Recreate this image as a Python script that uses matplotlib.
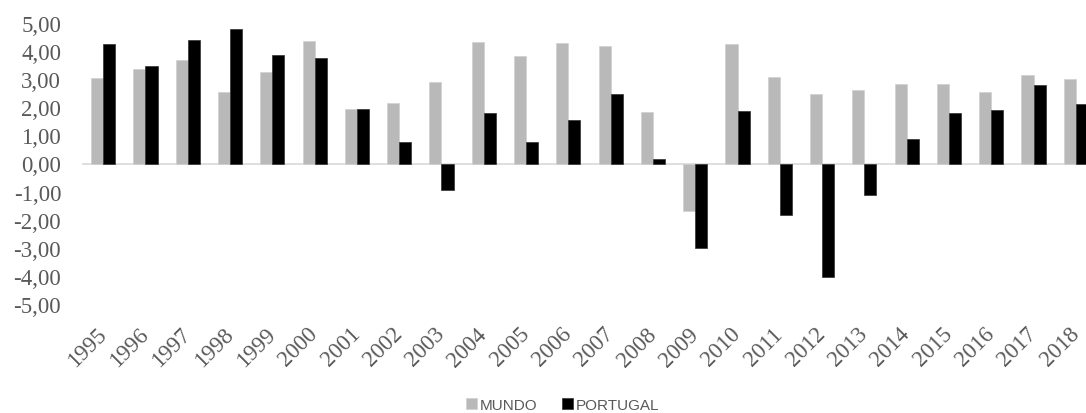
import numpy as np
import matplotlib.pyplot as plt
from matplotlib.ticker import FuncFormatter

# dados
anos = [str(a) for a in range(1995, 2019)]
mundo = [3.03, 3.38, 3.68, 2.55, 3.26, 4.36, 1.93, 2.17, 2.90, 4.34, 3.84, 4.30,
         4.18, 1.83, -1.70, 4.26, 3.09, 2.49, 2.62, 2.82, 2.83, 2.56, 3.15, 3.02]
portugal = [4.27, 3.48, 4.41, 4.77, 3.86, 3.76, 1.93, 0.75, -0.93, 1.80, 0.75, 1.54,
            2.47, 0.17, -3.00, 1.88, -1.83, -4.03, -1.12, 0.88, 1.81, 1.92, 2.80, 2.13]

cor_texto = '#595959'

fig = plt.figure(figsize=(10.86, 4.14), dpi=100)
# eixo um pouco mais largo que a figura (grafico cortado a direita)
ax = fig.add_axes([82 / 1086, (414 - 305) / 414, (1097 - 82) / 1086, 281 / 414])

x = np.arange(len(anos))
w = 0.286
ax.bar(x - w / 2, mundo, w, color='#b9b9b9', edgecolor='#d0d0d0', linewidth=0.5, label='MUNDO')
ax.bar(x + w / 2, portugal, w, color='#000000', edgecolor='#303030', linewidth=0.5, label='PORTUGAL')
ax.axhline(0, color='#d9d9d9', linewidth=1.2, zorder=0)

ax.set_xlim(-0.5, len(anos) - 0.5)
ax.set_ylim(-5, 5)
ax.set_yticks(np.arange(-5, 6, 1))
ax.yaxis.set_major_formatter(FuncFormatter(lambda v, p: f'{v:.2f}'.replace('.', ',')))
for s in ax.spines.values():
    s.set_visible(False)
ax.tick_params(axis='both', length=0)
ax.tick_params(axis='y', pad=15, labelsize=16.5, labelcolor=cor_texto)
for lbl in ax.get_yticklabels():
    lbl.set_family('Liberation Serif')

ax.set_xticks(x)
ax.set_xticklabels(anos, rotation=45, ha='right', va='center', rotation_mode='anchor',
                   family='Liberation Serif', fontsize=16.5, color=cor_texto)
ax.tick_params(axis='x', pad=19)

fig.legend(loc='center', bbox_to_anchor=(563 / 1086, 1 - 406 / 414), ncol=2, frameon=False,
           prop={'family': 'Liberation Sans', 'size': 11}, labelcolor=cor_texto,
           handlelength=0.7, handleheight=0.7, handletextpad=0.2, columnspacing=1.6)

plt.savefig('out.png', dpi=100)
